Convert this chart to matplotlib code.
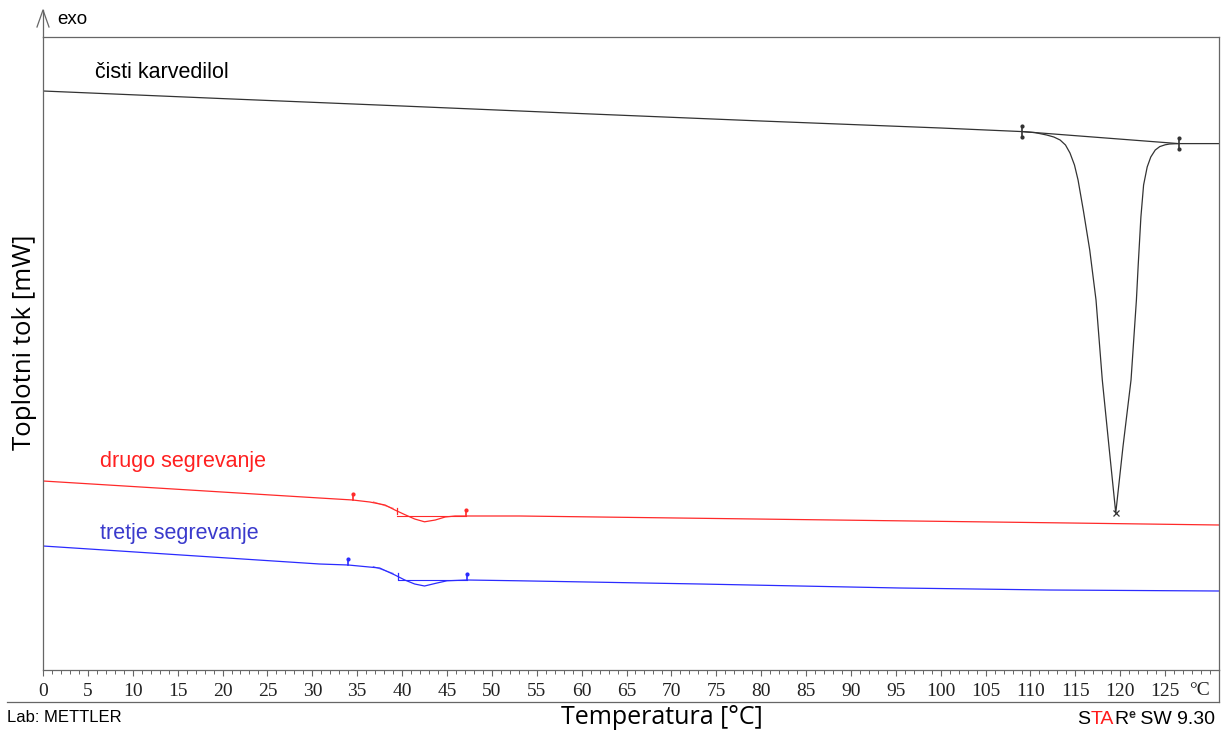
import numpy as np
import matplotlib
matplotlib.use("Agg")
import matplotlib.pyplot as plt
from matplotlib.lines import Line2D
from matplotlib.ticker import FixedLocator

# DSC curves, heat flow in mW (offset per curve as in the original print)
black_T = [0, 20, 40, 60, 80, 100, 109.1, 110.5, 111.8, 112.6, 113.3, 113.9, 114.4, 114.9, 115.3, 115.9,
           116.6, 117.3, 118.0, 118.75, 119.5, 120.3, 121.2, 121.8, 122.0, 122.3, 122.6, 123.0, 123.4,
           123.9, 124.4, 125.0, 125.5, 126.5, 131]
black_mW = [-2.70, -3.08, -3.45, -3.83, -4.20, -4.55, -4.73, -4.78, -4.90, -5.00, -5.15, -5.40, -5.80, -6.40,
            -7.15, -8.70, -10.65, -13.15, -17.15, -20.50, -23.80, -20.50, -17.15, -13.15, -11.40, -9.00,
            -7.40, -6.50, -6.00, -5.65, -5.48, -5.39, -5.35, -5.33, -5.33]

red_T = [0, 30.8, 34.5, 36.4, 38.1, 39.2, 40.3, 41.4, 42.5, 43.7, 44.8, 45.9, 47.1, 53.1, 114.4, 131]
red_mW = [-22.20, -23.05, -23.15, -23.25, -23.40, -23.65, -23.88, -24.10, -24.24, -24.15, -24.00,
          -23.95, -23.95, -23.95, -24.30, -24.40]

blue_T = [0, 30.8, 34.0, 37.5, 39.2, 40.3, 41.4, 42.5, 43.9, 45.0, 47.2, 53.1, 73.2, 95.4, 112.1, 131]
blue_mW = [-25.45, -26.35, -26.40, -26.55, -26.90, -27.15, -27.35, -27.45, -27.30, -27.19, -27.15,
           -27.19, -27.35, -27.55, -27.65, -27.70]

# integration limits [°C]
black_limits = [109.1, 126.5]
red_limits = [34.5, 47.1]
blue_limits = [34.0, 47.2]
glass_onset = [39.4, 39.5]   # red, blue

labels = ["čisti karvedilol", "drugo segrevanje", "tretje segrevanje"]
xticks_major = list(range(0, 126, 5))

C_BLACK = "#333333"
C_RED = "#ff2a2a"
C_BLUE = "#2b2bff"
C_FRAME = "#666666"
SANS = ["Liberation Sans", "DejaVu Sans"]

fig = plt.figure(figsize=(12.26, 7.34), dpi=100)
W, H = 1226, 734
ax = fig.add_axes([43 / W, (H - 670) / H, (1219 - 43) / W, (670 - 37) / H])
ax.set_xlim(0, 131)
ax.set_ylim(-31.65, 0)

ax.plot(black_T, black_mW, color=C_BLACK, lw=0.9)
ax.plot(red_T, red_mW, color=C_RED, lw=0.9)
ax.plot(blue_T, blue_mW, color=C_BLUE, lw=0.9)

# black peak evaluation: baseline, limits, peak cross
by = np.interp(black_limits, black_T, black_mW)
ax.plot(black_limits, by, color=C_BLACK, lw=0.9)
for t, y in zip(black_limits, by):
    ax.plot([t, t], [y - 0.28, y + 0.28], color=C_BLACK, lw=1.2)
    ax.plot([t, t], [y - 0.28, y + 0.28], ls="none", marker="o", ms=2, color=C_BLACK)
ipk = int(np.argmin(black_mW))
ax.plot(black_T[ipk], black_mW[ipk], marker="x", ms=5, mew=0.9, color=C_BLACK)

# glass transition evaluations
for T, mW, lim, on, c in [(red_T, red_mW, red_limits, glass_onset[0], C_RED),
                          (blue_T, blue_mW, blue_limits, glass_onset[1], C_BLUE)]:
    ly = np.interp(lim, T, mW)
    for t, y in zip(lim, ly):
        ax.plot([t, t], [y, y + 0.3], color=c, lw=1.2)
        ax.plot(t, y + 0.3, marker="o", ms=2, color=c)
    # tangent before step
    tt = np.array([36.8, 39.0])
    ax.plot(tt, np.interp(tt, T, mW) + 0.04, color=c, lw=0.8, alpha=0.6)
    oy = np.interp(on, T, mW)
    ax.plot([on, on], [oy - 0.15, oy + 0.15], color=c, lw=0.9)
    # baseline after step
    ax.plot([on, lim[1]], [ly[1], ly[1]], color=c, lw=0.8)

# curve labels
lab_kw = dict(fontsize=15.5, family=SANS, va="center", ha="left")
fig.text(95 / W, 1 - 72 / H, labels[0], color="black", **lab_kw)
fig.text(100 / W, 1 - 462 / H, labels[1], color="#ff2020", **lab_kw)
fig.text(100 / W, 1 - 533 / H, labels[2], color="#3a3acc", **lab_kw)

# axes styling
for side in ["left", "top", "right", "bottom"]:
    ax.spines[side].set_color(C_FRAME)
    ax.spines[side].set_linewidth(0.9)
ax.set_yticks([])
ax.xaxis.set_major_locator(FixedLocator(xticks_major))
ax.xaxis.set_minor_locator(FixedLocator(list(range(0, 131))))
ax.tick_params(axis="x", which="major", direction="out", length=4.5, width=0.8, color=C_FRAME, pad=5,
               labelsize=14, labelcolor="#222222")
ax.tick_params(axis="x", which="minor", direction="out", length=3, width=0.7, color=C_FRAME)
for lbl in ax.get_xticklabels():
    lbl.set_family(["Liberation Serif", "DejaVu Serif"])
ax.text(128.8, -0.019, "°C", transform=ax.get_xaxis_transform(), ha="center", va="top",
        fontsize=14, color="#222222", family=["Liberation Serif", "DejaVu Serif"])

# frame extras: exo arrow, bottom and right border
fig.add_artist(Line2D([43 / W, 43 / W], [1 - 37 / H, 1 - 10 / H], color=C_FRAME, lw=0.9))
fig.add_artist(Line2D([37 / W, 43 / W, 49 / W], [1 - 27 / H, 1 - 10 / H, 1 - 27 / H], color=C_FRAME, lw=0.9))
fig.add_artist(Line2D([1219 / W, 1219 / W], [1 - 670 / H, 1 - 702 / H], color=C_FRAME, lw=0.9))
fig.add_artist(Line2D([7 / W, 1219 / W], [1 - 702 / H, 1 - 702 / H], color=C_FRAME, lw=0.9))
fig.text(57 / W, 1 - 19 / H, "exo", fontsize=13.5, va="center", ha="left", family=SANS)

# footer texts
fig.text(662 / W, 1 - 718 / H, "Temperatura [°C]", fontsize=18, ha="center", va="center",
         family=["Open Sans", "DejaVu Sans"])
fig.text(25 / W, 1 - 342 / H, "Toplotni tok [mW]", fontsize=18.5, ha="center", va="center", rotation=90,
         family=["Open Sans", "DejaVu Sans"])
fig.text(7 / W, 1 - 717 / H, "Lab: METTLER", fontsize=12, ha="left", va="center", family=SANS)

# "STARe SW 9.30", built right to left
renderer = fig.canvas.get_renderer()
x = 1215
base = 724
for s, col, fs, bold, rise in [(" SW 9.30", "black", 14, False, 0), ("e", "#222222", 9, True, 6),
                               ("R", "black", 14, False, 0), ("TA", "#ff1a1a", 14, False, 0),
                               ("S", "black", 14, False, 0)]:
    t = fig.text(x / W, 1 - (base - rise) / H, s, color=col, fontsize=fs, ha="right", va="baseline",
                 family=SANS, fontweight="bold" if bold else "normal")
    x = t.get_window_extent(renderer).x0

fig.savefig("out.png", dpi=100, facecolor="white")
